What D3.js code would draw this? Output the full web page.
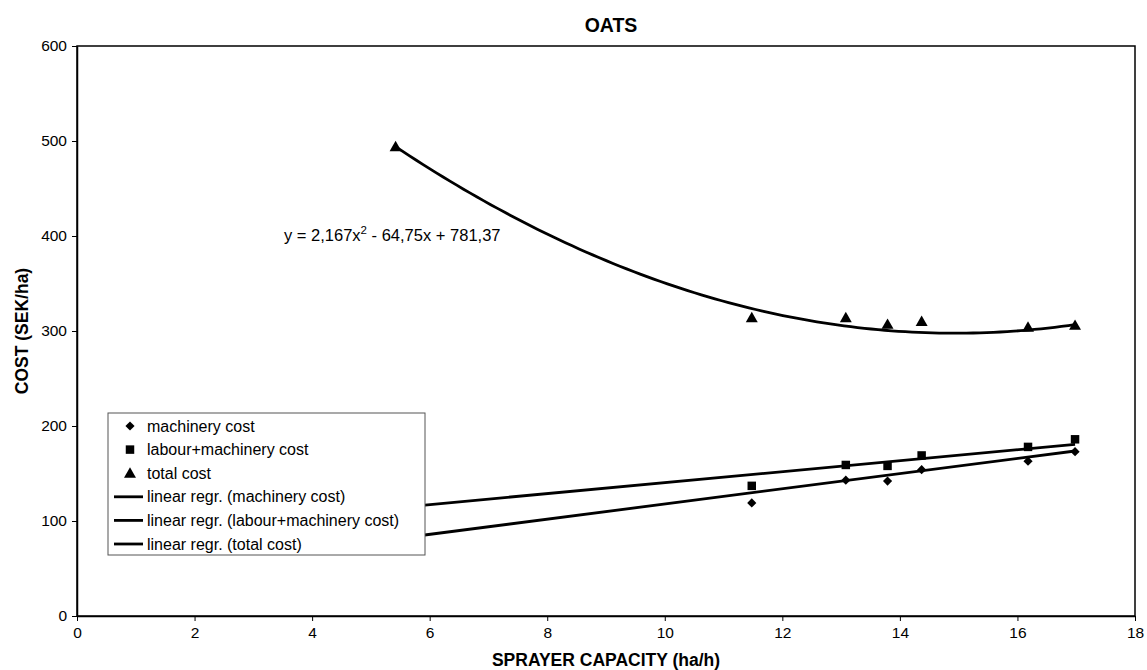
<!DOCTYPE html>
<html>
<head>
<meta charset="utf-8">
<script src="https://cdn.jsdelivr.net/npm/d3@7"></script>
<style>
  html, body { margin: 0; padding: 0; background: #fff; }
  svg { display: block; font-family: "Liberation Sans", Arial, sans-serif; }
</style>
</head>
<body>
<svg id="chart" width="1147" height="670"></svg>
<script>
// Sprayer capacity (ha/h) for each observation
const capacity = [11.48, 13.08, 13.79, 14.37, 16.18, 16.98];
const capacityTotal = [5.42, 11.48, 13.08, 13.79, 14.37, 16.18, 16.98];

// Cost series (SEK/ha)
const machineryCost = [119, 143, 142, 154, 163, 173];
const labourMachineryCost = [137, 159, 158, 169, 178, 186];
const totalCost = [494, 314, 314, 307, 310, 304, 306];

// Linear trendlines: [slope, intercept]
const machineryTrend = [7.99, 38.0];
const labourTrend = [5.78, 82.6];
const trendRange = [5.42, 16.98];

// Polynomial trendline for total cost: y = a x^2 + b x + c
const polyCoef = [2.167, -64.75, 781.37];

const xTicks = [0, 2, 4, 6, 8, 10, 12, 14, 16, 18];
const yTicks = [0, 100, 200, 300, 400, 500, 600];

const legendLabels = [
  "machinery cost",
  "labour+machinery cost",
  "total cost",
  "linear regr. (machinery cost)",
  "linear regr. (labour+machinery cost)",
  "linear regr. (total cost)"
];

const svg = d3.select("#chart");
const plotL = 77, plotR = 1135, plotT = 46, plotB = 616;

const x = d3.scaleLinear().domain([0, 18]).range([plotL, plotR]);
const y = d3.scaleLinear().domain([0, 600]).range([plotB, plotT]);

// Title
svg.append("text")
  .attr("x", 611).attr("y", 32)
  .attr("text-anchor", "middle")
  .attr("font-size", 19.5).attr("font-weight", "bold")
  .text("OATS");

// Axes
const xAxis = svg.append("g")
  .attr("transform", `translate(0,${plotB})`)
  .call(d3.axisBottom(x).tickValues(xTicks).tickSize(5).tickPadding(6).tickSizeOuter(0));
const yAxis = svg.append("g")
  .attr("transform", `translate(${plotL},0)`)
  .call(d3.axisLeft(y).tickValues(yTicks).tickSize(5).tickPadding(5).tickSizeOuter(0));

[xAxis, yAxis].forEach(g => {
  g.selectAll("text").attr("font-size", 15.5).attr("fill", "#000")
    .attr("font-family", "'Liberation Sans', Arial, sans-serif");
  g.selectAll("line").attr("stroke", "#000").attr("stroke-width", 1);
  g.select(".domain").attr("stroke", "#000").attr("stroke-width", 1.5);
});

// Plot area frame
svg.append("rect")
  .attr("x", plotL).attr("y", plotT)
  .attr("width", plotR - plotL).attr("height", plotB - plotT)
  .attr("fill", "none").attr("stroke", "#000").attr("stroke-width", 1.5);

// Axis titles
svg.append("text")
  .attr("x", 606).attr("y", 666)
  .attr("text-anchor", "middle")
  .attr("font-size", 17.5).attr("font-weight", "bold")
  .text("SPRAYER CAPACITY (ha/h)");
svg.append("text")
  .attr("transform", `translate(28,${(plotT + plotB) / 2}) rotate(-90)`)
  .attr("text-anchor", "middle")
  .attr("font-size", 17.5).attr("font-weight", "bold")
  .text("COST (SEK/ha)");

// Trendlines
const lineGen = d3.line().x(d => x(d[0])).y(d => y(d[1]));
[machineryTrend, labourTrend].forEach(([m, b]) => {
  svg.append("path")
    .datum(trendRange.map(v => [v, m * v + b]))
    .attr("d", lineGen)
    .attr("fill", "none").attr("stroke", "#000").attr("stroke-width", 2.8);
});

const polySteps = d3.range(0, 101).map(i => trendRange[0] + (trendRange[1] - trendRange[0]) * i / 100);
svg.append("path")
  .datum(polySteps.map(v => [v, polyCoef[0] * v * v + polyCoef[1] * v + polyCoef[2]]))
  .attr("d", lineGen)
  .attr("fill", "none").attr("stroke", "#000").attr("stroke-width", 2.8);

// Markers
const diamondPath = d3.symbol().type(d3.symbolSquare).size(42);
const squarePath = d3.symbol().type(d3.symbolSquare).size(72);
const trianglePath = d3.symbol().type(d3.symbolTriangle).size(62);

svg.append("g").selectAll("path")
  .data(capacity.map((c, i) => [c, machineryCost[i]]))
  .join("path")
  .attr("d", diamondPath)
  .attr("transform", d => `translate(${x(d[0])},${y(d[1])}) rotate(45)`)
  .attr("fill", "#000");

svg.append("g").selectAll("path")
  .data(capacity.map((c, i) => [c, labourMachineryCost[i]]))
  .join("path")
  .attr("d", squarePath)
  .attr("transform", d => `translate(${x(d[0])},${y(d[1])})`)
  .attr("fill", "#000");

svg.append("g").selectAll("path")
  .data(capacityTotal.map((c, i) => [c, totalCost[i]]))
  .join("path")
  .attr("d", trianglePath)
  .attr("transform", d => `translate(${x(d[0])},${y(d[1]) + 1})`)
  .attr("fill", "#000");

// Trendline equation
const eq = svg.append("text")
  .attr("x", 284).attr("y", 241)
  .attr("font-size", 16.5);
eq.append("tspan").text("y = 2,167x");
eq.append("tspan").attr("dy", -7).attr("font-size", 11.5).text("2");
eq.append("tspan").attr("dy", 7).text(" - 64,75x + 781,37");

// Legend
const lg = svg.append("g").attr("transform", "translate(108,413)");
lg.append("rect")
  .attr("width", 317).attr("height", 142)
  .attr("fill", "#fff").attr("stroke", "#555").attr("stroke-width", 1);
const rowY = i => 13 + i * 23.6;
lg.selectAll("text.lbl")
  .data(legendLabels)
  .join("text")
  .attr("class", "lbl")
  .attr("x", 39).attr("y", (d, i) => rowY(i) + 5.5)
  .attr("font-size", 16)
  .text(d => d);
lg.append("path")
  .attr("transform", `translate(22,${rowY(0)}) rotate(45)`)
  .attr("d", diamondPath).attr("fill", "#000");
lg.append("path")
  .attr("transform", `translate(22,${rowY(1)})`)
  .attr("d", squarePath).attr("fill", "#000");
lg.append("path")
  .attr("transform", `translate(22,${rowY(2) + 1})`)
  .attr("d", trianglePath).attr("fill", "#000");
[3, 4, 5].forEach(i => {
  lg.append("line")
    .attr("x1", 6).attr("x2", 35)
    .attr("y1", rowY(i)).attr("y2", rowY(i))
    .attr("stroke", "#000").attr("stroke-width", 2.8);
});
</script>
</body>
</html>
